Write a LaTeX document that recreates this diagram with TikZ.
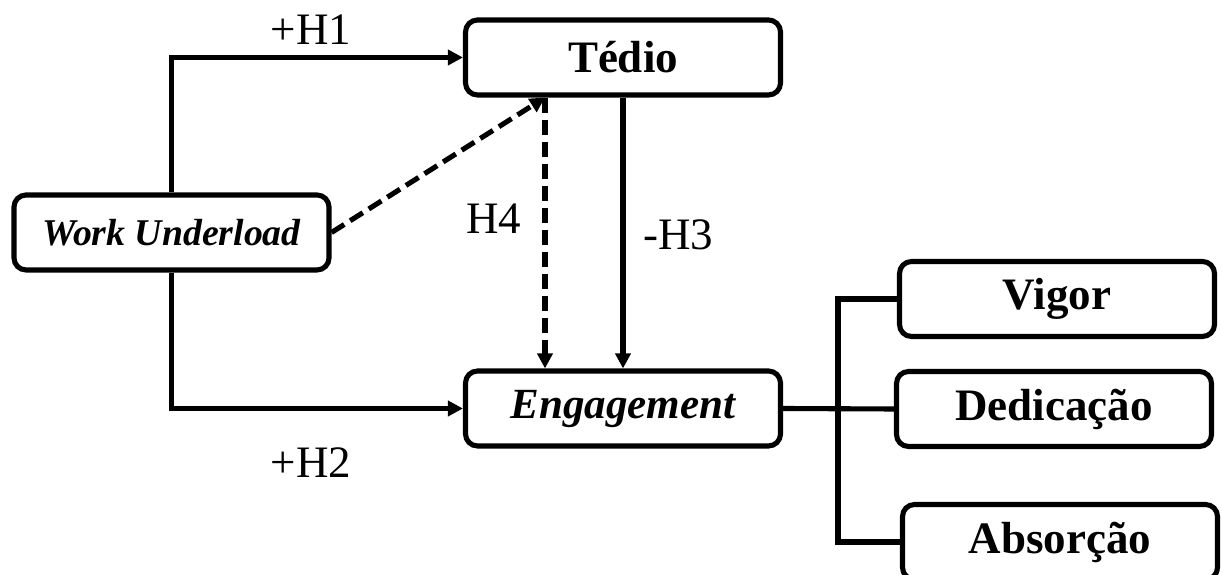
\documentclass[tikz,border=0pt]{standalone}
\usepackage{fontspec}
\setmainfont{Liberation Serif}
\usepackage{tikz}
\usetikzlibrary{arrows.meta,positioning}
\newcommand{\bigtxt}{\fontsize{25.6pt}{30pt}\selectfont}
\newcommand{\midtxt}{\fontsize{24.5pt}{29pt}\selectfont}
\newcommand{\smalltxt}{\fontsize{21.5pt}{25pt}\selectfont}

\begin{document}
\begin{tikzpicture}[
    font=\bigtxt,
    construct/.style={draw, rounded corners=0.24cm, line width=2.9pt, fill=white, minimum width=6.3cm, minimum height=1.5cm, align=center, font=\bigtxt\bfseries},
    link/.style={line width=2.9pt},
    arrow/.style={link, -{Triangle[length=0.3cm,width=0.3cm]}},
    hyp/.style={font=\bigtxt}
  ]
    \useasboundingbox (0,0) rectangle (24.44,-11.5);

    \node[construct, font=\smalltxt\bfseries\itshape] (under) at (3.43,-4.65) {Work Underload};
    \node[construct] (tedio) at (12.46,-1.15) {Tédio};
    \node[construct, font=\midtxt\bfseries\itshape] (engage) at (12.46,-8.17) {Engagement};
    \node[construct] (vigor) at (21.14,-5.98) {Vigor};
    \node[construct] (dedic) at (21.08,-8.18) {Dedicação};
    \node[construct] (absorb) at (21.2,-10.84) {Absorção};

    \node[hyp] (h1) at (6.22,-0.6) {+H1};
    \node[hyp] (h2) at (6.22,-9.26) {+H2};
    \node[hyp] (h4) at (9.87,-4.38) {H4};
    \node[hyp] (h3) at (13.56,-4.7) {-H3};

    \coordinate (modpt) at ([xshift=-1.56cm]tedio.south);
    \coordinate (bus) at (16.76,-8.17);

    \draw[arrow] (under.north) |- (tedio.west);
    \draw[arrow] (under.south) |- (engage.west);
    \draw[arrow, dash pattern=on 0.3cm off 0.14cm] (under.east) -- (modpt);
    \draw[arrow, dash pattern=on 0.3cm off 0.14cm] (modpt) -- (modpt |- engage.north);
    \draw[arrow] (tedio.south) -- (engage.north);
    \draw[link] (engage.east) -- (dedic.west);
    \draw[link] (vigor.west) -| (bus) |- (absorb.west);
  \end{tikzpicture}
\end{document}
